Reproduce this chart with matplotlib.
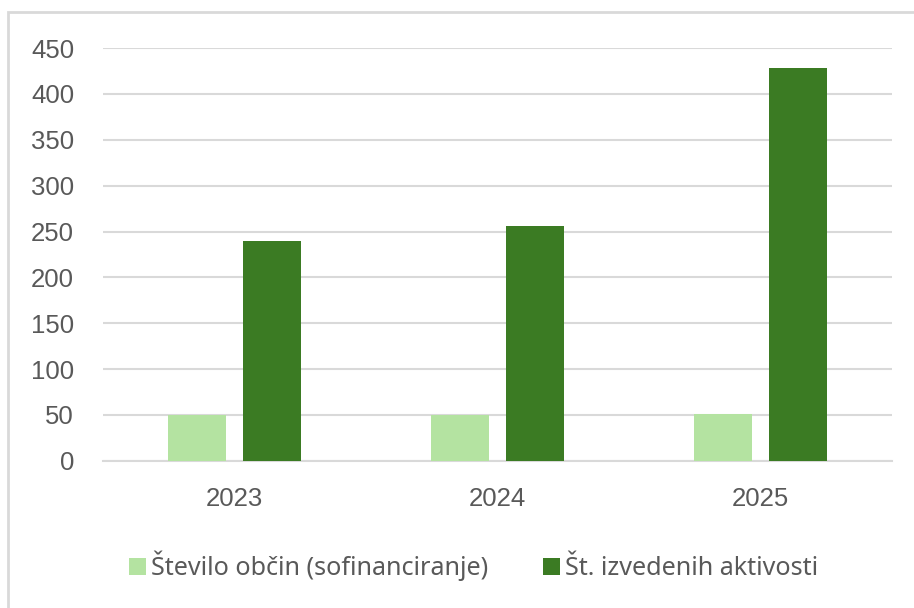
import matplotlib.pyplot as plt
import numpy as np
from matplotlib.patches import Rectangle

# Podatki
leta = ['2023', '2024', '2025']
obcine = [50, 50, 51]
aktivnosti = [240, 256, 428]

svetla = '#b4e3a1'
temna = '#3b7b23'

fig = plt.figure(figsize=(9.14, 6.08), dpi=100)
ax = fig.add_axes([0.113, 0.242, 0.863, 0.679])

x = np.arange(len(leta))
sirina = 0.22
ax.bar(x - 0.142, obcine, sirina, color=svetla, label='Število občin (sofinanciranje)', zorder=3)
ax.bar(x + 0.142, aktivnosti, sirina, color=temna, label='Št. izvedenih aktivosti', zorder=3)

ax.set_xlim(-0.5, 2.5)
ax.set_ylim(0, 450)
ax.set_yticks(np.arange(0, 451, 50))
ax.set_xticks(x)
ax.set_xticklabels(leta)
ax.grid(axis='y', color='#d9d9d9', linewidth=1.5, zorder=0)
for s in ['top', 'right', 'left']:
    ax.spines[s].set_visible(False)
ax.spines['bottom'].set_color('#d9d9d9')
ax.spines['bottom'].set_linewidth(1.5)
ax.tick_params(axis='both', length=0, labelsize=18.5, labelcolor='#595959')
ax.tick_params(axis='y', pad=21)
ax.tick_params(axis='x', pad=19)
for lab in ax.get_xticklabels() + ax.get_yticklabels():
    lab.set_family('Liberation Sans')

leg = fig.legend(loc='center', bbox_to_anchor=(0.518, 0.069), ncol=2, frameon=False,
                 handlelength=0.68, handleheight=0.68, handletextpad=0.2,
                 columnspacing=2.2, prop={'family': 'Noto Sans', 'size': 18.1})
for t in leg.get_texts():
    t.set_color('#595959')

# okvir grafikona
fig.patches.append(Rectangle((0.009, -0.05), 1.1, 1.03, transform=fig.transFigure,
                             fill=False, edgecolor='#d9d9d9', linewidth=2))

fig.savefig('out.png', dpi=100)
